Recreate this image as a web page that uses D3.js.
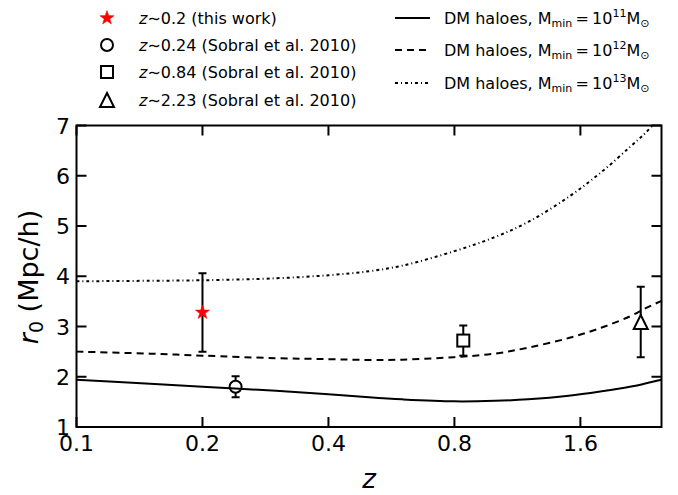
<!DOCTYPE html>
<html><head><meta charset="utf-8">
<script src="https://cdn.jsdelivr.net/npm/d3@7"></script>
<style>body{margin:0;background:#fff}svg{display:block;font-family:"DejaVu Sans",sans-serif}</style>
</head><body><svg id="c" width="678" height="495"></svg>
<script>
// ---- data ----
const xTicks = [0.1, 0.2, 0.4, 0.8, 1.6];
const xTickLabels = ["0.1", "0.2", "0.4", "0.8", "1.6"];
const yTicks = [1, 2, 3, 4, 5, 6, 7];
const curveZ = [0.1, 0.15, 0.2, 0.3, 0.4, 0.5, 0.6, 0.8, 1.0, 1.2, 1.5, 1.8, 2.1, 2.3, 2.5];
const dm11 = [1.94, 1.86, 1.80, 1.72, 1.65, 1.59, 1.55, 1.51, 1.52, 1.55, 1.62, 1.71, 1.80, 1.87, 1.94];
const dm12 = [2.50, 2.46, 2.42, 2.37, 2.35, 2.335, 2.34, 2.39, 2.46, 2.58, 2.77, 2.98, 3.20, 3.37, 3.51];
const dm13 = [3.90, 3.91, 3.92, 3.96, 4.02, 4.10, 4.21, 4.50, 4.78, 5.08, 5.58, 6.08, 6.57, 6.87, 7.2];
const obsZ = [0.2, 0.24, 0.84, 2.23];
const obsR0 = [3.28, 1.80, 2.72, 3.09];
const obsErr = [0.78, 0.21, 0.30, 0.70];
const obsMarker = ["star", "circle", "square", "triangle"];
const obsColor = ["#ff0000", "#000", "#000", "#000"];
const obsLegend = ["0.2 (this work)", "0.24 (Sobral et al. 2010)", "0.84 (Sobral et al. 2010)", "2.23 (Sobral et al. 2010)"];
const dmLegendExp = ["11", "12", "13"];

// ---- layout ----
const svg = d3.select("#c");
const L = 76.5, R = 661.5, T = 125.5, B = 427;
const x = d3.scaleLog().domain([0.1, 2.5]).range([L, R]);
const y = d3.scaleLinear().domain([1, 7]).range([B, T]);

svg.append("defs").append("clipPath").attr("id", "clip")
  .append("rect").attr("x", L).attr("y", T).attr("width", R - L).attr("height", B - T);

function starPath(R0) {
  const r = R0 * 0.4; let p = "";
  for (let i = 0; i < 10; i++) {
    const a = -Math.PI / 2 + i * Math.PI / 5, rr = i % 2 ? r : R0;
    p += (i ? "L" : "M") + (rr * Math.cos(a)).toFixed(2) + "," + (rr * Math.sin(a)).toFixed(2);
  }
  return p + "Z";
}
function drawMarker(g, type, cx, cy, color) {
  if (type === "star") {
    g.append("path").attr("d", starPath(7.5)).attr("transform", `translate(${cx},${cy})`).attr("fill", color).attr("stroke", color).attr("stroke-width", 0.5);
  } else if (type === "circle") {
    g.append("circle").attr("cx", cx).attr("cy", cy).attr("r", 6).attr("fill", "#fff").attr("stroke", color).attr("stroke-width", 2);
  } else if (type === "square") {
    g.append("rect").attr("x", cx - 6).attr("y", cy - 6).attr("width", 12).attr("height", 12).attr("fill", "#fff").attr("stroke", color).attr("stroke-width", 2);
  } else {
    g.append("path").attr("d", `M${cx},${cy - 7}L${cx + 7},${cy + 7}L${cx - 7},${cy + 7}Z`).attr("fill", "#fff").attr("stroke", color).attr("stroke-width", 2).attr("stroke-linejoin", "miter");
  }
}

const plot = svg.append("g").attr("clip-path", "url(#clip)");

// error bars + markers
const obs = obsZ.map((z, i) => ({ z, r: obsR0[i], e: obsErr[i], m: obsMarker[i], c: obsColor[i] }));
obs.forEach(d => {
  const cx = x(d.z);
  plot.append("line").attr("x1", cx).attr("x2", cx).attr("y1", y(d.r - d.e)).attr("y2", y(d.r + d.e)).attr("stroke", "#000").attr("stroke-width", 2);
  [d.r - d.e, d.r + d.e].forEach(v => plot.append("line").attr("x1", cx - 4).attr("x2", cx + 4).attr("y1", y(v)).attr("y2", y(v)).attr("stroke", "#000").attr("stroke-width", 2));
  drawMarker(plot, d.m, cx, y(d.r), d.c);
});

// model curves
const line = d3.line().x(d => x(d[0])).y(d => y(d[1])).curve(d3.curveCatmullRom.alpha(0.5));
const curves = [
  { v: dm11, dash: null },
  { v: dm12, dash: "7,5" },
  { v: dm13, dash: "3,3,1,3" }
];
curves.forEach(c => {
  plot.append("path").datum(curveZ.map((z, i) => [z, c.v[i]])).attr("d", line)
    .attr("fill", "none").attr("stroke", "#000").attr("stroke-width", 2)
    .attr("stroke-dasharray", c.dash);
});

// frame
svg.append("rect").attr("x", L).attr("y", T).attr("width", R - L).attr("height", B - T)
  .attr("fill", "none").attr("stroke", "#000").attr("stroke-width", 2);

// ticks inside, all 4 sides
const tl = 10;
xTicks.forEach((t, i) => {
  const px = x(t);
  svg.append("line").attr("x1", px).attr("x2", px).attr("y1", B).attr("y2", B - tl).attr("stroke", "#000").attr("stroke-width", 2);
  svg.append("line").attr("x1", px).attr("x2", px).attr("y1", T).attr("y2", T + tl).attr("stroke", "#000").attr("stroke-width", 2);
  svg.append("text").attr("x", px).attr("y", 451).attr("text-anchor", "middle").attr("font-size", 22).attr("fill", "#000").text(xTickLabels[i]);
});
yTicks.forEach(t => {
  const py = y(t);
  svg.append("line").attr("x1", L).attr("x2", L + tl).attr("y1", py).attr("y2", py).attr("stroke", "#000").attr("stroke-width", 2);
  svg.append("line").attr("x1", R).attr("x2", R - tl).attr("y1", py).attr("y2", py).attr("stroke", "#000").attr("stroke-width", 2);
  svg.append("text").attr("x", 70).attr("y", py + 8).attr("text-anchor", "end").attr("font-size", 22).attr("fill", "#000").text(t);
});

// axis labels
svg.append("text").attr("x", (L + R) / 2).attr("y", 488).attr("text-anchor", "middle").attr("font-size", 26).attr("font-style", "italic").text("z");
const yl = svg.append("text").attr("transform", "translate(38,277) rotate(-90)").attr("text-anchor", "middle").attr("font-size", 27);
yl.append("tspan").attr("font-style", "italic").text("r");
yl.append("tspan").attr("font-size", 19).attr("dy", 5).text("0");
yl.append("tspan").attr("dy", -5).text(" (Mpc/h)");

// left legend
const ly = [18, 45, 72, 100];
obs.forEach((d, i) => {
  drawMarker(svg, d.m, 107, ly[i], d.c);
  const t = svg.append("text").attr("x", 139).attr("y", ly[i] + 6).attr("font-size", 16);
  t.append("tspan").attr("font-style", "italic").text("z");
  t.append("tspan").text("\u223C" + obsLegend[i]);
});

// right legend
const ry = [18, 50, 83];
curves.forEach((c, i) => {
  svg.append("line").attr("x1", 395).attr("x2", 430).attr("y1", ry[i]).attr("y2", ry[i])
    .attr("stroke", "#000").attr("stroke-width", 2).attr("stroke-dasharray", c.dash);
  const t = svg.append("text").attr("x", 444).attr("y", ry[i] + 6).attr("font-size", 16);
  t.append("tspan").text("DM haloes, M");
  t.append("tspan").attr("font-size", 11).attr("dy", 3).text("min");
  t.append("tspan").attr("dy", -3).text("\u2009=\u200910");
  t.append("tspan").attr("font-size", 11).attr("dy", -7).text(dmLegendExp[i]);
  t.append("tspan").attr("dy", 7).text("M");
  t.append("tspan").attr("font-size", 11).attr("dy", 3).text("\u2299");
});
</script></body></html>
